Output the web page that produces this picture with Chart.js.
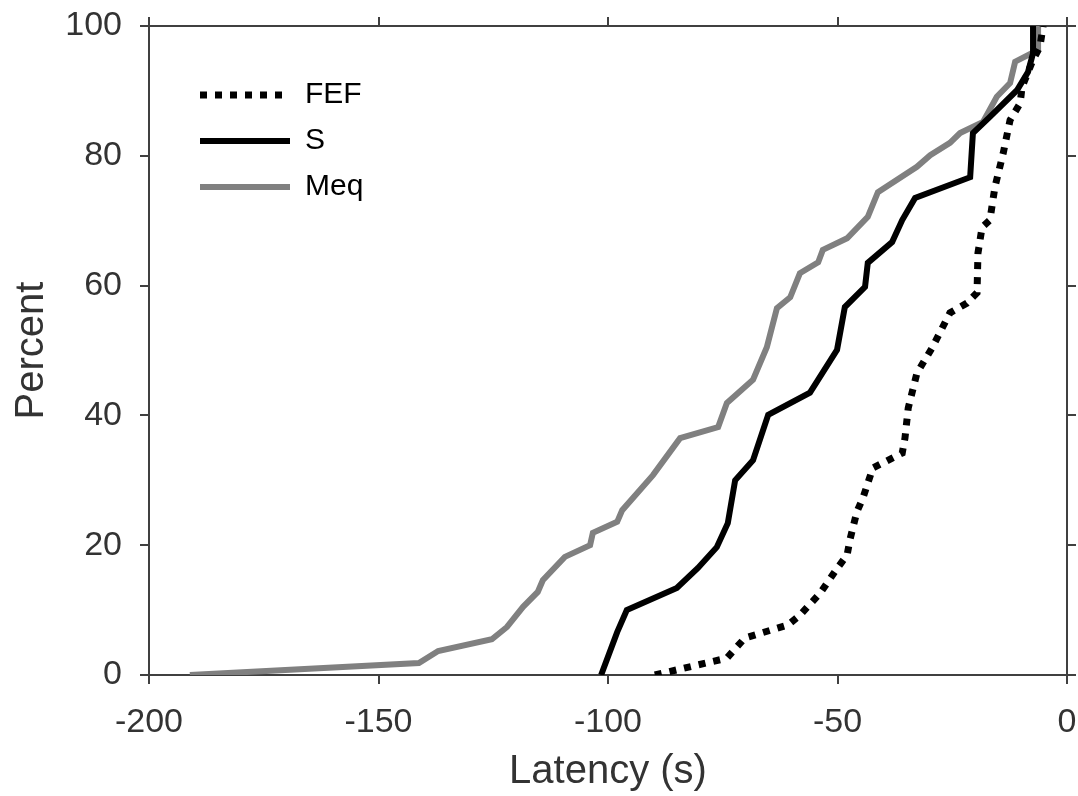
<!DOCTYPE html>
<html>
<head>
<meta charset="utf-8">
<script src="https://cdn.jsdelivr.net/npm/chart.js@4"></script>
<style>
  html, body { margin: 0; padding: 0; background: #fff; }
</style>
</head>
<body>
<canvas id="latencyChart" width="1078" height="796"></canvas>
<script>
// FEF
const fefLatency = [-89.8, -74.1, -70.2, -60.8, -58.2, -53.8, -49.9, -47.9, -47.3, -45.8, -44.4, -42.3, -35.9, -35.3, -34.6, -32.7, -29.4, -25.5, -21.8, -19.6, -19.4, -18.5, -16.8, -15.7, -13.9, -12.4, -10.2, -9.8, -7.4, -5.9, -5.2];
const fefPercent = [0, 2.6, 5.7, 7.7, 9.2, 12.6, 16.6, 18.5, 20.8, 25.1, 27.4, 31.9, 34.2, 36.5, 41.1, 46.5, 50.4, 55.8, 57.3, 58.9, 65.0, 69.0, 70.1, 75.2, 80.4, 85.5, 88.1, 90.6, 94.8, 96.8, 100];

// S
const sLatency = [-101.5, -98.0, -95.9, -85.0, -80.4, -76.3, -73.9, -72.3, -68.4, -65.1, -56.0, -50.1, -48.4, -44.0, -43.4, -38.1, -35.9, -33.1, -21.1, -20.5, -16.8, -10.9, -8.5, -7.4, -7.4];
const sPercent = [0, 6.6, 10.0, 13.4, 16.5, 19.7, 23.4, 30.0, 33.1, 40.1, 43.5, 50.1, 56.7, 59.8, 63.5, 66.7, 70.1, 73.5, 76.7, 83.5, 86.0, 90.1, 92.9, 95.8, 100];

// Meq
const meqLatency = [-191.1, -141.2, -137.0, -125.3, -122.0, -118.5, -115.3, -114.2, -109.4, -103.9, -103.3, -98.0, -96.9, -90.2, -84.3, -76.0, -74.1, -68.4, -65.4, -63.2, -60.3, -58.2, -54.2, -53.2, -47.9, -43.4, -41.2, -32.7, -29.8, -25.5, -23.3, -18.3, -15.3, -12.4, -11.3, -6.3, -6.3];
const meqPercent = [0, 1.85, 3.7, 5.5, 7.4, 10.5, 12.8, 14.6, 18.2, 20.0, 21.9, 23.6, 25.4, 30.8, 36.5, 38.2, 41.9, 45.5, 50.5, 56.5, 58.2, 61.9, 63.6, 65.5, 67.3, 70.6, 74.4, 78.3, 80.1, 82.0, 83.5, 85.2, 89.1, 91.2, 94.5, 96.3, 100];

const xTicks = [-200, -150, -100, -50, 0];
const yTicks = [0, 20, 40, 60, 80, 100];

const pts = (xs, ys) => xs.map((x, i) => ({ x: x, y: ys[i] }));

const axisColor = '#404040';
const textColor = '#333333';
const fontFamily = '"Liberation Sans", Arial, sans-serif';

// fixed box size, and no extra padding for edge labels
function fixSize(prop, size) {
    return s => {
        s[prop] = size;
        s.paddingLeft = s.paddingRight = s.paddingTop = s.paddingBottom = 0;
    };
}

// frame axis: line + outward tick marks, no gridlines inside
function frameAxis(extra) {
    return Object.assign({
        type: 'linear',
        grid: { drawOnChartArea: false, drawTicks: true, tickLength: 9, color: axisColor, lineWidth: 2 },
        border: { display: true, color: axisColor, width: 2 }
    }, extra);
}

// move legend inside the plot, upper left
const legendPlacer = {
    id: 'legendPlacer',
    afterLayout(chart) {
        const lg = chart.legend;
        if (!lg) return;
        const w = lg.width, h = lg.height;
        lg.left = 184; lg.top = 64;
        lg.right = lg.left + w; lg.bottom = lg.top + h;
    }
};

new Chart(document.getElementById('latencyChart'), {
    type: 'line',
    data: {
        datasets: [
            {
                label: 'FEF',
                data: pts(fefLatency, fefPercent),
                borderColor: '#000000',
                borderWidth: 7,
                borderDash: [7, 8],
                borderCapStyle: 'butt'
            },
            {
                label: 'S',
                data: pts(sLatency, sPercent),
                borderColor: '#000000',
                borderWidth: 6
            },
            {
                label: 'Meq',
                data: pts(meqLatency, meqPercent),
                borderColor: '#808080',
                borderWidth: 6
            }
        ]
    },
    plugins: [legendPlacer],
    options: {
        responsive: false,
        animation: false,
        layout: { padding: 0 },
        elements: {
            point: { radius: 0, hoverRadius: 0 },
            line: { tension: 0, fill: false, borderJoinStyle: 'miter' }
        },
        plugins: {
            tooltip: { enabled: false },
            legend: {
                position: 'chartArea',
                align: 'start',
                labels: {
                    usePointStyle: true,
                    pointStyle: 'line',
                    pointStyleWidth: 90,
                    padding: 16,
                    color: '#000000',
                    font: { family: fontFamily, size: 30 },
                    generateLabels: chart => {
                        const items = Chart.defaults.plugins.legend.labels.generateLabels(chart);
                        items.forEach(it => {
                            const ds = chart.data.datasets[it.datasetIndex];
                            it.lineDash = ds.borderDash || [];
                            it.lineWidth = ds.borderWidth;
                            it.strokeStyle = ds.borderColor;
                            it.lineCap = 'butt';
                            it.pointStyle = 'line';
                        });
                        return items;
                    }
                }
            }
        },
        scales: {
            x: frameAxis({
                position: 'bottom',
                min: -200, max: 0,
                afterBuildTicks: s => { s.ticks = xTicks.map(v => ({ value: v })); },
                ticks: { color: textColor, padding: 18, maxRotation: 0, font: { family: fontFamily, size: 34 } },
                title: { display: true, text: 'Latency (s)', color: textColor, padding: { top: 0, bottom: 0 }, font: { family: fontFamily, size: 40 } },
                afterFit: fixSize('height', 121)
            }),
            y: frameAxis({
                position: 'left',
                min: 0, max: 100,
                afterBuildTicks: s => { s.ticks = yTicks.map(v => ({ value: v })); },
                ticks: { color: textColor, padding: 18, font: { family: fontFamily, size: 34 } },
                title: { display: true, text: 'Percent', color: textColor, padding: { top: 8, bottom: 0 }, font: { family: fontFamily, size: 40 } },
                afterFit: fixSize('width', 149)
            }),
            x2: frameAxis({
                position: 'top',
                min: -200, max: 0,
                afterBuildTicks: s => { s.ticks = xTicks.map(v => ({ value: v })); },
                ticks: { display: false },
                afterFit: fixSize('height', 26)
            }),
            y2: frameAxis({
                position: 'right',
                min: 0, max: 100,
                afterBuildTicks: s => { s.ticks = yTicks.map(v => ({ value: v })); },
                ticks: { display: false },
                afterFit: fixSize('width', 11)
            })
        }
    }
});
</script>
</body>
</html>
